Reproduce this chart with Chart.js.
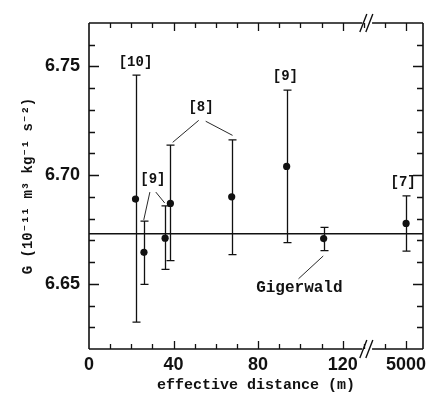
<!DOCTYPE html>
<html>
<head>
<meta charset="utf-8">
<script src="https://cdn.jsdelivr.net/npm/chart.js@4.4.1/dist/chart.umd.min.js"></script>
<style>
  html, body { margin: 0; padding: 0; background: #fff; }
  #wrap { width: 427px; height: 394px; }
</style>
</head>
<body>
<div id="wrap"><canvas id="c" width="427" height="394"></canvas></div>
<script>
// ── data ─────────────────────────────────────────────────
const DISTANCE = [22, 26, 36, 38.5, 67.5, 93.5, 111, 5000];
const G_VALUE  = [6.689, 6.6645, 6.671, 6.687, 6.690, 6.704, 6.6708, 6.6778];
const G_UPPER  = [6.746, 6.6788, 6.6859, 6.7138, 6.7162, 6.7391, 6.676, 6.6905];
const G_LOWER  = [6.6324, 6.6497, 6.6566, 6.6607, 6.6634, 6.6689, 6.6653, 6.665];
const G_REFERENCE = 6.673;

const X_TICKS = [0, 10, 20, 30, 40, 50, 60, 70, 80, 90, 100, 110, 120, 130, 140, 150];
const X_TICK_LABELS = { 0: '0', 40: '40', 80: '80', 120: '120', 150: '5000' };
const Y_TICK_LABELS = [6.65, 6.70, 6.75];

// broken x axis: anything past the break sits at the "5000" slot
const BREAK_FROM = 129.3;
const BREAK_TO = 133.9;
const FAR_SLOT = 150;
function axisX(d) { return d > BREAK_TO ? FAR_SLOT : d; }

// reference labels, placed in data coordinates
const NOTES = [
  { text: '[10]', x: 22, y: 6.752, size: 14 },
  { text: '[9]', x: 30.2, y: 6.698, size: 14 },
  { text: '[8]', x: 53, y: 6.7312, size: 14 },
  { text: '[9]', x: 92.9, y: 6.7454, size: 14 },
  { text: '[7]', x: 148.6, y: 6.6968, size: 14 },
  { text: 'Gigerwald', x: 99.5, y: 6.6482, size: 16 },
];
const LEADERS = [
  [28.8, 6.6922, 25.9, 6.6794],
  [31.6, 6.6922, 35.8, 6.6872],
  [51.9, 6.7252, 39.6, 6.7151],
  [55.2, 6.7248, 67.9, 6.7183],
  [99.1, 6.6523, 110.8, 6.6628],
];

const INK = '#111';
const MONO = "'Liberation Mono', 'DejaVu Sans Mono', monospace";
const SANS = "'Liberation Sans', Arial, sans-serif";

// ── frame, inward ticks, axis break, error bars, notes ───
const framePlugin = {
  id: 'frame',
  beforeDatasetsDraw(chart) {
    const { ctx, scales: { x, y } } = chart;
    ctx.save();
    ctx.strokeStyle = INK;
    ctx.lineWidth = 1.3;
    DISTANCE.forEach((d, i) => {
      const px = Math.round(x.getPixelForValue(axisX(d))) + 0.5;
      const top = y.getPixelForValue(G_UPPER[i]);
      const bot = y.getPixelForValue(G_LOWER[i]);
      ctx.beginPath();
      ctx.moveTo(px, top); ctx.lineTo(px, bot);
      ctx.moveTo(px - 4, top); ctx.lineTo(px + 4, top);
      ctx.moveTo(px - 4, bot); ctx.lineTo(px + 4, bot);
      ctx.stroke();
    });
    ctx.restore();
  },
  afterDraw(chart) {
    const { ctx, chartArea: a, scales: { x, y } } = chart;
    const gapL = x.getPixelForValue(BREAK_FROM);
    const gapR = x.getPixelForValue(BREAK_TO);
    ctx.save();
    ctx.strokeStyle = INK;
    ctx.lineWidth = 1.6;
    ctx.beginPath();
    ctx.moveTo(a.left, a.top); ctx.lineTo(a.left, a.bottom);
    ctx.moveTo(a.right, a.top); ctx.lineTo(a.right, a.bottom);
    ctx.moveTo(a.left, a.top); ctx.lineTo(gapL, a.top);
    ctx.moveTo(gapR, a.top); ctx.lineTo(a.right, a.top);
    ctx.moveTo(a.left, a.bottom); ctx.lineTo(gapL, a.bottom);
    ctx.moveTo(gapR, a.bottom); ctx.lineTo(a.right, a.bottom);
    ctx.stroke();

    // inward ticks
    ctx.lineWidth = 1.3;
    ctx.beginPath();
    X_TICKS.forEach(v => {
      if (v === 0) return;
      const px = Math.round(x.getPixelForValue(v)) + 0.5;
      const len = X_TICK_LABELS[v] ? 8 : 5;
      ctx.moveTo(px, a.bottom); ctx.lineTo(px, a.bottom - len);
      ctx.moveTo(px, a.top); ctx.lineTo(px, a.top + len);
    });
    for (let k = 663; k <= 776; k += 1) {
      const v = k / 100;
      if (v >= y.max) break;
      const py = Math.round(y.getPixelForValue(v)) + 0.5;
      const len = k % 5 === 0 ? 10 : 6;
      ctx.moveTo(a.left, py); ctx.lineTo(a.left + len, py);
      ctx.moveTo(a.right, py); ctx.lineTo(a.right - len, py);
    }
    ctx.stroke();

    // break slashes
    ctx.lineWidth = 1.4;
    ctx.beginPath();
    [a.top, a.bottom].forEach(yy => {
      [gapL + 1, gapL + 7].forEach(cx => {
        ctx.moveTo(cx - 3.5, yy + 9); ctx.lineTo(cx + 3.5, yy - 9);
      });
    });
    ctx.stroke();

    // leader lines
    ctx.lineWidth = 0.9;
    ctx.beginPath();
    LEADERS.forEach(([x1, y1, x2, y2]) => {
      ctx.moveTo(x.getPixelForValue(x1), y.getPixelForValue(y1));
      ctx.lineTo(x.getPixelForValue(x2), y.getPixelForValue(y2));
    });
    ctx.stroke();

    // reference labels
    ctx.fillStyle = INK;
    ctx.textAlign = 'center';
    ctx.textBaseline = 'middle';
    NOTES.forEach(n => {
      ctx.font = `bold ${n.size}px ${MONO}`;
      ctx.fillText(n.text, x.getPixelForValue(n.x), y.getPixelForValue(n.y));
    });
    ctx.restore();
  },
};

const points = DISTANCE.map((d, i) => ({ x: axisX(d), y: G_VALUE[i] }));

new Chart(document.getElementById('c'), {
  type: 'scatter',
  data: {
    datasets: [
      {
        label: 'G',
        data: points,
        pointRadius: 3.6,
        pointBackgroundColor: INK,
        pointBorderColor: INK,
        pointBorderWidth: 0,
      },
      {
        type: 'line',
        label: 'reference',
        data: [{ x: 0, y: G_REFERENCE }, { x: 158, y: G_REFERENCE }],
        borderColor: INK,
        borderWidth: 1.5,
        pointRadius: 0,
        fill: false,
      },
    ],
  },
  options: {
    responsive: false,
    animation: false,
    devicePixelRatio: 1,
    layout: { padding: { top: 23, right: 3, left: 0, bottom: 0 } },
    plugins: { legend: { display: false }, tooltip: { enabled: false } },
    scales: {
      x: {
        type: 'linear',
        min: 0,
        max: 158,
        grid: { display: false, drawTicks: false },
        border: { display: false },
        afterBuildTicks: s => { s.ticks = X_TICKS.map(v => ({ value: v })); },
        ticks: {
          autoSkip: false,
          maxRotation: 0,
          padding: 5,
          color: INK,
          font: { family: SANS, size: 18, weight: 'bold' },
          callback: v => X_TICK_LABELS[v] || '',
        },
        title: {
          display: true,
          text: 'effective distance (m)',
          color: INK,
          font: { family: MONO, size: 15, weight: 'bold' },
          padding: { top: 0, bottom: 0 },
        },
        afterFit: s => { s.height = 45; s.paddingLeft = 0; s.paddingRight = 0; },
      },
      y: {
        type: 'linear',
        min: 6.62,
        max: 6.77,
        grid: { display: false, drawTicks: false },
        border: { display: false },
        ticks: {
          stepSize: 0.01,
          autoSkip: false,
          padding: 9,
          color: INK,
          font: { family: SANS, size: 18, weight: 'bold' },
          callback: v => Y_TICK_LABELS.some(t => Math.abs(t - v) < 1e-6) ? v.toFixed(2) : '',
        },
        title: {
          display: true,
          text: 'G (10⁻¹¹ m³ kg⁻¹ s⁻²)',
          color: INK,
          font: { family: MONO, size: 14, weight: 'bold' },
          padding: { top: 20, bottom: 0 },
        },
        afterFit: s => { s.width = 89; s.paddingTop = 0; s.paddingBottom = 0; },
      },
    },
  },
  plugins: [framePlugin],
});
</script>
</body>
</html>
